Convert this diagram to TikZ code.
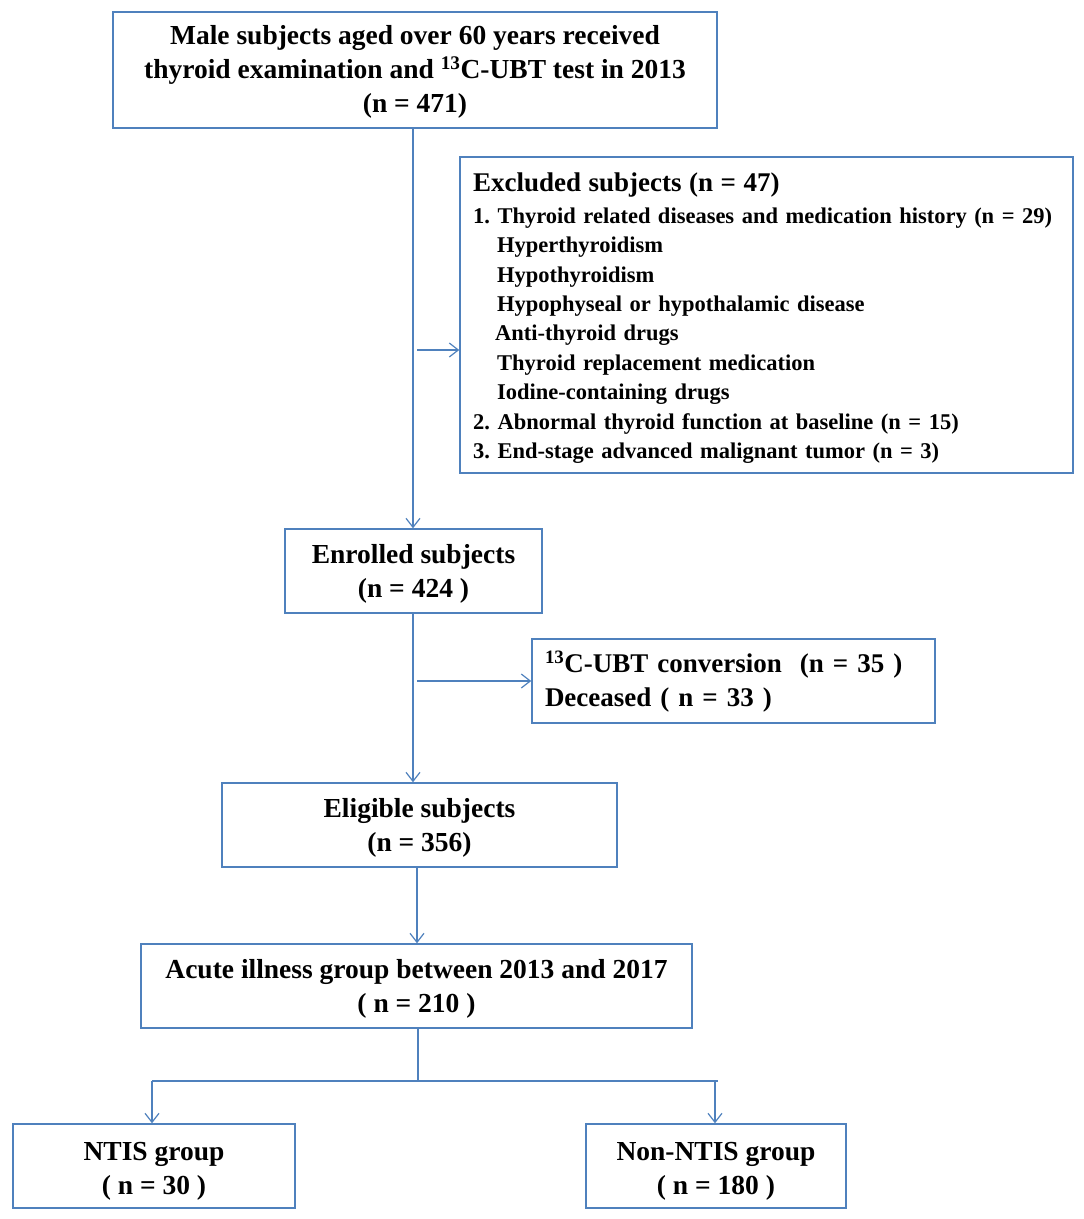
\documentclass[tikz,border=0pt]{standalone}
\usepackage{fontspec}
\setmainfont{Liberation Serif}
\usetikzlibrary{arrows.meta}
\definecolor{lineblue}{HTML}{4F81BD}
\begin{document}
\frenchspacing
\begin{tikzpicture}[x=1pt,y=-1pt,
  box/.style={draw=lineblue,line width=1.5pt,fill=white,inner sep=0pt},
  txt/.style={inner sep=0pt,align=center,font=\fontsize{27.5}{34}\selectfont\bfseries},
  conn/.style={draw=lineblue,line width=1.4pt},
  arr/.style={conn,-{Straight Barb[length=9pt,width=14pt,line width=1.2pt]}}]
\useasboundingbox (0,0) rectangle (1084,1219);
% boxes
\node[box,minimum width=604pt,minimum height=116pt] (top) at (415,70) {};
\node[box,minimum width=613pt,minimum height=316pt] (excl) at (766.5,315) {};
\node[box,minimum width=257pt,minimum height=84pt] (enr) at (413.5,571) {};
\node[box,minimum width=403pt,minimum height=84pt] (side) at (733.5,681) {};
\node[box,minimum width=395pt,minimum height=84pt] (elig) at (419.5,825) {};
\node[box,minimum width=551pt,minimum height=84pt] (acute) at (416.5,986) {};
\node[box,minimum width=282pt,minimum height=84pt] (ntis) at (154,1166) {};
\node[box,minimum width=260pt,minimum height=84pt] (non) at (716,1166) {};
% texts
\node[txt,yshift=-2pt] (toptext) at (top.center)
  {Male subjects aged over 60 years received\\thyroid examination and \textsuperscript{13}C-UBT test in 2013\\(n = 471)};
\node[anchor=north west,inner sep=0pt,align=left,font=\fontsize{22.5}{29.4}\selectfont\bfseries,text width=600pt] (excltext) at (473,173)
  {{\fontsize{27}{29.4}\selectfont Excluded subjects (n = 47)}\\[2pt]
   1. Thyroid related diseases and medication history (n = 29)\\
   \hspace*{24pt}Hyperthyroidism\\
   \hspace*{24pt}Hypothyroidism\\
   \hspace*{24pt}Hypophyseal or hypothalamic disease\\
   \hspace*{22pt}Anti-thyroid drugs\\
   \hspace*{24pt}Thyroid replacement medication\\
   \hspace*{24pt}Iodine-containing drugs\\
   2. Abnormal thyroid function at baseline (n = 15)\\
   3. End-stage advanced malignant tumor (n = 3)};
\node[txt,yshift=-3pt] (enrtext) at (enr.center) {Enrolled subjects\\(n = 424 )};
\node[txt,align=left,text width=377pt,yshift=-1pt,font=\fontsize{27}{34}\selectfont\bfseries] (sidetext) at (side.center)
  {\textsuperscript{13}C-UBT conversion\ \ (n = 35 )\\Deceased ( n = 33 )};
\node[txt,yshift=-3pt] (eligtext) at (elig.center) {Eligible subjects\\(n = 356)};
\node[txt,yshift=-3pt] (acutetext) at (acute.center) {Acute illness group between 2013 and 2017\\( n = 210 )};
\node[txt,yshift=-5pt] (ntistext) at (ntis.center) {NTIS group\\( n = 30 )};
\node[txt,yshift=-5pt] (nontext) at (non.center) {Non-NTIS group\\( n = 180 )};
% connectors
\coordinate (v1) at (413,128);
\draw[arr] (v1) -- (v1 |- enr.north);
\coordinate (b1) at (417,350);
\draw[arr] (b1) -- (b1 -| excl.west);
\coordinate (v2) at (413,613);
\draw[arr] (v2) -- (v2 |- elig.north);
\coordinate (b2) at (417,681);
\draw[arr] (b2) -- (b2 -| side.west);
\coordinate (v3) at (417,867);
\draw[arr] (v3) -- (v3 |- acute.north);
\coordinate (v4) at (418,1028);
\coordinate (h4) at (418,1081);
\coordinate (hl) at (152,1081);
\coordinate (hr) at (718,1081);
\coordinate (hra) at (715,1081);
\draw[conn] (v4) -- (h4);
\draw[conn] (hl) -- (hr);
\draw[arr] (hl) -- (hl |- ntis.north);
\draw[arr] (hra) -- (hra |- non.north);
\end{tikzpicture}
\end{document}
